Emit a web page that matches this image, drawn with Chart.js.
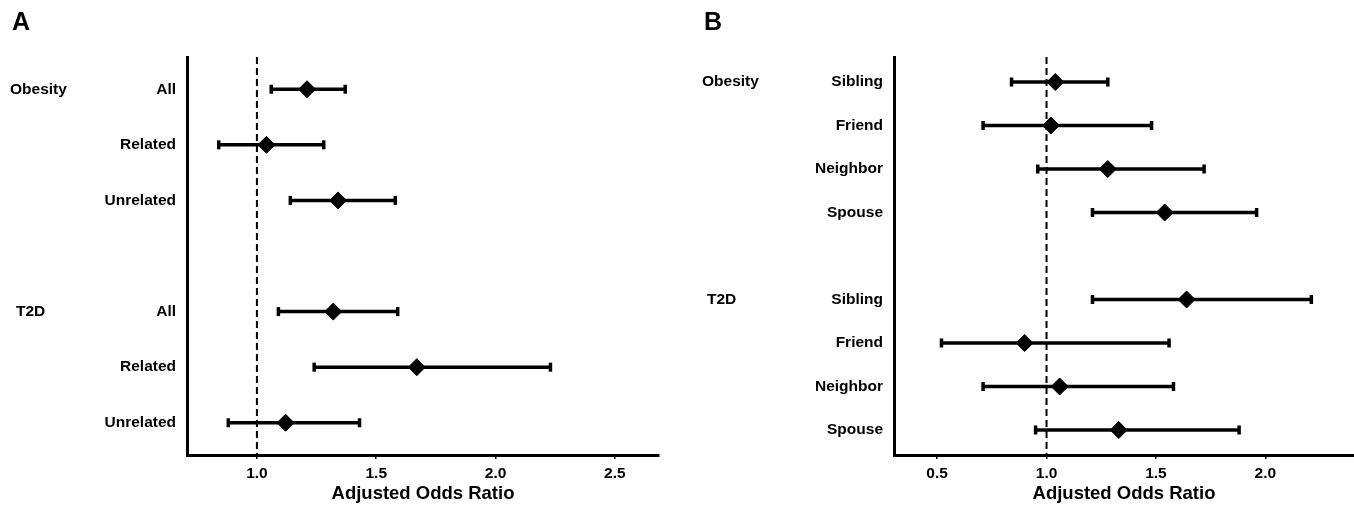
<!DOCTYPE html>
<html>
<head>
<meta charset="utf-8">
<script src="https://cdn.jsdelivr.net/npm/chart.js@4.4.0/dist/chart.umd.min.js"></script>
<style>
  html, body { margin: 0; background: #fff; overflow: hidden; }
  .panel { position: absolute; top: 0; width: 677px; height: 507px; }
  .panel canvas { display: block; }
  .letter { position: absolute; font: bold 25px "Liberation Sans", Arial, sans-serif; line-height: 1.15; color: #000; }
</style>
</head>
<body>
<div class="panel" style="left:0"><canvas id="chartA" width="677" height="507"></canvas></div>
<div class="panel" style="left:677px"><canvas id="chartB" width="677" height="507"></canvas></div>
<div class="letter" style="left:12px;top:7px">A</div>
<div class="letter" style="left:704px;top:7px">B</div>
<script>
// reference value (no effect)
const nullOR = 1;

// Panel A: obesity / T2D by relatedness
const groupsA = ['Obesity', 'T2D'];
const contactsA = ['All', 'Related', 'Unrelated'];
const obesityOrA = [1.21, 1.04, 1.34];
const obesityLoA = [1.06, 0.84, 1.14];
const obesityHiA = [1.37, 1.28, 1.58];
const t2dOrA = [1.32, 1.67, 1.12];
const t2dLoA = [1.09, 1.24, 0.88];
const t2dHiA = [1.59, 2.23, 1.43];
const xTicksA = [1.0, 1.5, 2.0, 2.5];

// Panel B: obesity / T2D by type of contact
const groupsB = ['Obesity', 'T2D'];
const contactsB = ['Sibling', 'Friend', 'Neighbor', 'Spouse'];
const obesityOrB = [1.04, 1.02, 1.28, 1.54];
const obesityLoB = [0.84, 0.71, 0.96, 1.21];
const obesityHiB = [1.28, 1.48, 1.72, 1.96];
const t2dOrB = [1.64, 0.90, 1.06, 1.33];
const t2dLoB = [1.21, 0.52, 0.71, 0.95];
const t2dHiB = [2.21, 1.56, 1.58, 1.88];
const xTicksB = [0.5, 1.0, 1.5, 2.0];

const FONT = '"Liberation Sans", Arial, Helvetica, sans-serif';

const groupLabels = {
  id: 'groupLabels',
  afterDraw(chart, args, opts) {
    const ctx = chart.ctx;
    const y = chart.scales.y;
    ctx.save();
    ctx.font = 'bold 15.5px ' + FONT;
    ctx.fillStyle = '#000';
    ctx.textAlign = 'left';
    ctx.textBaseline = 'middle';
    opts.names.forEach((name, g) => {
      ctx.fillText(name, opts.x[g], y.getPixelForValue(opts.rows[g]));
    });
    ctx.restore();
  }
};

function buildPanel(id, p) {
  const per = p.categories.length + 1;   // one blank row between groups
  const lastRow = p.series.length * per - 2;
  const yMin = -p.edge, yMax = lastRow + p.edge;
  const rows = [];
  const rowLabels = {};
  const diamonds = [];
  const datasets = [];
  const firstRows = [];

  p.series.forEach((s, g) => {
    firstRows.push(g * per);
    p.categories.forEach((cat, i) => {
      const r = g * per + i;
      rows.push(r);
      rowLabels[r] = cat;
      diamonds.push({ x: s.or[i], y: r });
      datasets.push({
        data: [{ x: s.lo[i], y: r }, { x: s.hi[i], y: r }],
        showLine: true,
        borderColor: '#000',
        borderWidth: 3.5,
        pointStyle: 'line',
        rotation: 90,
        pointRadius: 4.5,
        pointBorderWidth: 3.5,
        pointBorderColor: '#000',
        order: 1
      });
    });
  });

  datasets.unshift({
    data: diamonds,
    pointStyle: 'rectRot',
    pointRadius: 8.5,
    backgroundColor: '#000',
    borderColor: '#000',
    borderWidth: 1,
    order: 0
  });

  datasets.push({
    data: [{ x: nullOR, y: yMin }, { x: nullOR, y: yMax }],
    showLine: true,
    borderColor: '#000',
    borderWidth: 2,
    borderDash: [7, 4],
    pointRadius: 0,
    order: 2
  });

  return new Chart(document.getElementById(id), {
    type: 'scatter',
    data: { datasets: datasets },
    options: {
      responsive: false,
      animation: false,
      events: [],
      layout: { autoPadding: false, padding: { top: 57, right: p.rightPad, bottom: 0, left: 0 } },
      plugins: {
        legend: { display: false },
        tooltip: { enabled: false },
        groupLabels: { names: p.groupNames, rows: firstRows, x: p.groupX }
      },
      scales: {
        x: {
          type: 'linear',
          min: p.xMin,
          max: p.xMax,
          afterBuildTicks: s => { s.ticks = p.xTicks.map(v => ({ value: v })); },
          afterFit: s => { s.height = 52; },
          ticks: {
            callback: v => v.toFixed(1),
            font: { family: FONT, weight: 'bold', size: 15.5 },
            color: '#000',
            padding: 5,
            maxRotation: 0,
            autoSkip: false
          },
          grid: { drawOnChartArea: false, drawTicks: true, tickLength: 4, color: '#000', lineWidth: 1.5 },
          border: { display: true, color: '#000', width: 3 },
          title: {
            display: true,
            text: 'Adjusted Odds Ratio',
            font: { family: FONT, weight: 'bold', size: 18.5 },
            color: '#000',
            padding: { top: 0, bottom: 2 }
          }
        },
        y: {
          type: 'linear',
          reverse: true,
          min: yMin,
          max: yMax,
          afterBuildTicks: s => { s.ticks = rows.map(v => ({ value: v })); },
          afterFit: s => { s.width = p.axisWidth; },
          ticks: {
            callback: v => rowLabels[v] || '',
            font: { family: FONT, weight: 'bold', size: 15.5 },
            color: '#000',
            padding: 11,
            autoSkip: false
          },
          grid: { display: false, drawTicks: false },
          border: { display: true, color: '#000', width: 3 }
        }
      }
    },
    plugins: [groupLabels]
  });
}

buildPanel('chartA', {
  groupNames: groupsA,
  categories: contactsA,
  series: [
    { or: obesityOrA, lo: obesityLoA, hi: obesityHiA },
    { or: t2dOrA, lo: t2dLoA, hi: t2dHiA }
  ],
  xTicks: xTicksA,
  xMin: 0.707,
  xMax: 2.685,
  edge: 0.58,
  axisWidth: 187,
  rightPad: 18,
  groupX: [10, 16]
});

buildPanel('chartB', {
  groupNames: groupsB,
  categories: contactsB,
  series: [
    { or: obesityOrB, lo: obesityLoB, hi: obesityHiB },
    { or: t2dOrB, lo: t2dLoB, hi: t2dHiB }
  ],
  xTicks: xTicksB,
  xMin: 0.303,
  xMax: 2.405,
  edge: 0.575,
  axisWidth: 217,
  rightPad: 0,
  groupX: [25, 30]
});
</script>
</body>
</html>
